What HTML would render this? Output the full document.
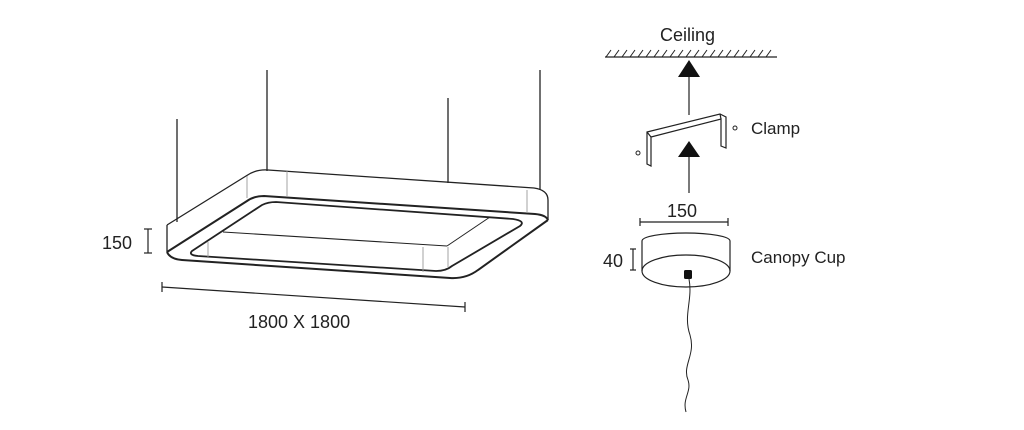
<!DOCTYPE html>
<html><head><style>
html,body{margin:0;padding:0;background:#fff;}
svg{display:block;}
text{font-family:"Liberation Sans",sans-serif;fill:#222;}
</style></head><body>
<svg width="1024" height="430" viewBox="0 0 1024 430" xmlns="http://www.w3.org/2000/svg">
<g stroke="#222" fill="none" stroke-width="1.3">
<!-- wires -->
<line x1="177" y1="119" x2="177" y2="222"/>
<line x1="267" y1="70" x2="267" y2="171"/>
<line x1="448" y1="98" x2="448" y2="183"/>
<line x1="540" y1="70" x2="540" y2="190"/>
<!-- outer top outline -->
<path d="M167,225 L246,176 Q256,169 268,170 L534,188 Q548,190 548,200 L548,220"/>
<line x1="167" y1="225" x2="167" y2="252"/>
<!-- bottom outer -->
<path d="M167,252 Q170,259 182,260 L450,278 Q466,279 478,270 L548,220" stroke-width="2"/>
<!-- thick top-inner edge -->
<path d="M167,252 L247,201 Q254,196 264,196 L535,214 Q546,215 548,220" stroke-width="2"/>
<!-- inner hole -->
<path d="M192,251 L262,205 Q268,202 276,202 L513,219 Q526,221 520,226 L452,266 Q446,271 436,271 L198,256 Q188,255 192,251 Z" stroke-width="1.8"/>
<!-- inner wall -->
<line x1="223" y1="232" x2="447" y2="246" stroke-width="1"/>
<line x1="447" y1="246" x2="490" y2="217" stroke-width="1"/>
</g>
<g stroke="#999" stroke-width="0.9">
<line x1="208" y1="242" x2="208" y2="257"/>
<line x1="423" y1="247" x2="423" y2="272"/>
<line x1="448" y1="247" x2="448" y2="267"/>
<line x1="247" y1="176" x2="247" y2="198"/>
<line x1="287" y1="171" x2="287" y2="197"/>
<line x1="527" y1="190" x2="527" y2="213"/>
</g>
<!-- dims left -->
<g stroke="#222" stroke-width="1.2">
<line x1="148" y1="229" x2="148" y2="253"/>
<line x1="144" y1="229" x2="152" y2="229"/>
<line x1="144" y1="253" x2="152" y2="253"/>
<line x1="162" y1="287" x2="465" y2="307"/>
<line x1="162" y1="282" x2="162" y2="292"/>
<line x1="465" y1="302" x2="465" y2="312"/>
</g>
<text x="102" y="249" font-size="18">150</text>
<text x="248" y="328" font-size="18">1800 X 1800</text>
<!-- right side -->
<text x="660" y="41" font-size="18">Ceiling</text>
<g stroke="#222" stroke-width="1.2" fill="none">
<line x1="605" y1="57" x2="777" y2="57"/>
<path d="M606,57 l5,-7 M614,57 l5,-7 M622,57 l5,-7 M630,57 l5,-7 M638,57 l5,-7 M646,57 l5,-7 M654,57 l5,-7 M662,57 l5,-7 M670,57 l5,-7 M678,57 l5,-7 M686,57 l5,-7 M694,57 l5,-7 M702,57 l5,-7 M710,57 l5,-7 M718,57 l5,-7 M726,57 l5,-7 M734,57 l5,-7 M742,57 l5,-7 M750,57 l5,-7 M758,57 l5,-7 M766,57 l5,-7" stroke-width="1"/>
<line x1="689" y1="74" x2="689" y2="115"/>
<line x1="689" y1="155" x2="689" y2="193"/>
<!-- clamp -->
<path d="M647,132 L720,114 L726,117 L726,148 L721,146 L721,119 L651,137 L651,166 L647,164 Z" stroke-width="1.2"/>
<line x1="647" y1="132" x2="651" y2="137"/>
<line x1="720" y1="114" x2="721" y2="119"/>
<!-- dim 150 -->
<line x1="640" y1="222" x2="728" y2="222"/>
<line x1="640" y1="218" x2="640" y2="226"/>
<line x1="728" y1="218" x2="728" y2="226"/>
<!-- 40 -->
<line x1="633" y1="249" x2="633" y2="270"/>
<line x1="630" y1="249" x2="636" y2="249"/>
<line x1="630" y1="270" x2="636" y2="270"/>
<!-- canopy -->
<path d="M642,241 A44,8 0 0 1 730,241"/>
<line x1="642" y1="241" x2="642" y2="271"/>
<line x1="730" y1="241" x2="730" y2="271"/>
<ellipse cx="686" cy="271" rx="44" ry="16"/>
<path d="M689,279 C693,300 683,315 690,335 C696,355 682,365 688,380 C692,392 682,398 686,412" stroke-width="1"/>
</g>
<polygon points="689,60 678,77 700,77" fill="#111"/>
<polygon points="689,141 678,157 700,157" fill="#111"/>
<circle cx="638" cy="153" r="2" fill="none" stroke="#222"/>
<circle cx="735" cy="128" r="2" fill="none" stroke="#222"/>
<rect x="684" y="270" width="8" height="9" rx="1.5" fill="#111"/>
<text x="751" y="134" font-size="17">Clamp</text>
<text x="667" y="217" font-size="18">150</text>
<text x="603" y="267" font-size="18">40</text>
<text x="751" y="263" font-size="17">Canopy Cup</text>
</svg>
</body></html>
